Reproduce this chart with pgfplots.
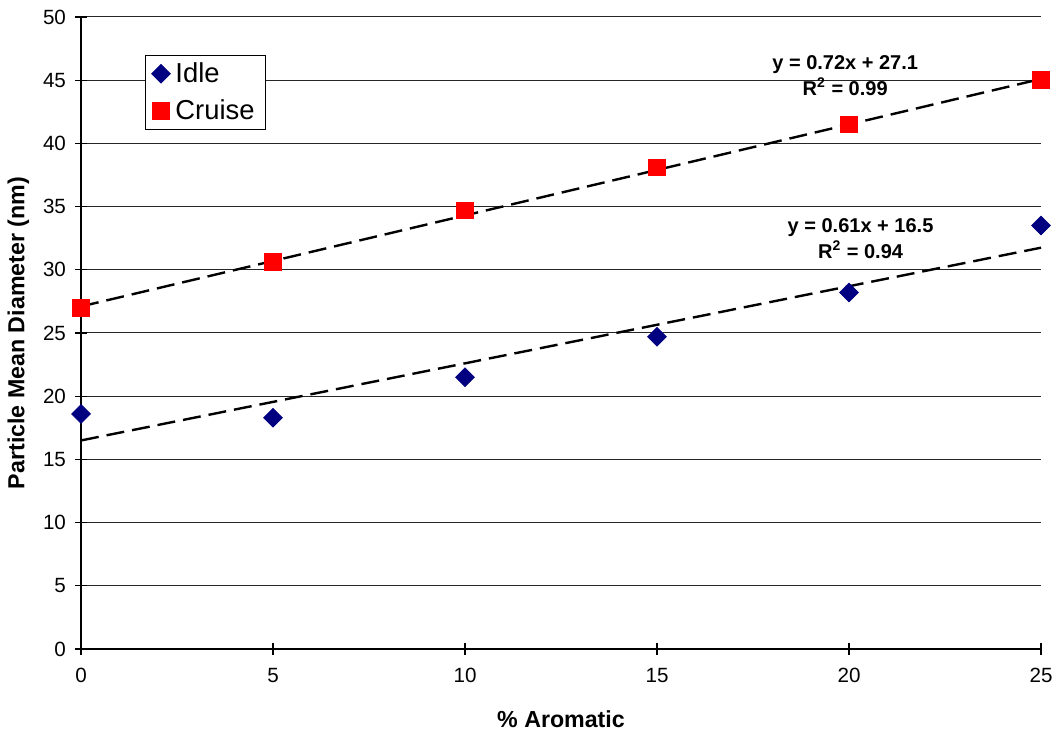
\documentclass[border=0pt]{standalone}
\usepackage{fontspec}
\setmainfont{Liberation Sans}
\usepackage{pgfplots}
\pgfplotsset{compat=1.18}
\definecolor{idlenavy}{RGB}{0,0,128}
\definecolor{cruisered}{RGB}{255,0,0}
\begin{document}
\begin{tikzpicture}[x=1pt,y=1pt]
\begin{axis}[
  scale only axis,
  width=480pt, height=316pt,
  xmin=0, xmax=25, ymin=0, ymax=50,
  xtick={0,5,...,25}, ytick={0,5,...,50},
  axis x line*=bottom, axis y line*=left,
  axis line style={black, line width=0.8pt},
  tick style={black, line width=0.6pt},
  tick align=center,
  major tick length=6pt,
  ymajorgrids, grid style={black!85, line width=0.5pt},
  clip=false,
  /pgf/number format/assume math mode=true,
  tick label style={font=\fontsize{10.3}{12}\selectfont},
  xticklabel style={yshift=-3pt},
  yticklabel style={xshift=-1pt},
  xlabel={\textbf{\% Aromatic}},
  ylabel={\textbf{Particle Mean Diameter (nm)}},
  label style={font=\fontsize{11.6}{13}\selectfont},
  xlabel style={yshift=-7pt},
  ylabel style={yshift=0pt},
  legend style={at={(0.067,0.94)}, anchor=north west, draw=black, fill=white,
    font=\fontsize{13.7}{16}\selectfont, inner xsep=3pt, inner ysep=1.5pt,
    row sep=3pt, legend cell align=left,
    nodes={inner xsep=2.5pt}},
  legend image code/.code={\draw[#1] plot coordinates {(0.16cm,0cm)};},
]
% measured points
\addplot[only marks, mark=square*, mark options={rotate=45}, mark size=3.3pt, color=idlenavy]
  coordinates {(0,18.6) (5,18.3) (10,21.5) (15,24.7) (20,28.2) (25,33.5)};
\addlegendentry{Idle}
\addplot[only marks, mark=square*, mark size=4.2pt, color=cruisered]
  coordinates {(0,27.0) (5,30.6) (10,34.7) (15,38.1) (20,41.5) (25,45.0)};
\addlegendentry{Cruise}
% linear fits
\addplot[black, line width=1.2pt, dash pattern=on 9pt off 4pt, forget plot]
  coordinates {(0,16.5) (25,31.75)};
\addplot[black, line width=1.2pt, dash pattern=on 9pt off 4pt, forget plot]
  coordinates {(0,27.1) (25,45.1)};
\node[font=\bfseries\fontsize{10}{12}\selectfont, align=center]
  at (axis cs:19.9,45.4) {y = 0.72x + 27.1\\[1pt]R$^{\mathbf{2}}$ = 0.99};
\node[font=\bfseries\fontsize{10}{12}\selectfont, align=center]
  at (axis cs:20.3,32.5) {y = 0.61x + 16.5\\[1pt]R$^{\mathbf{2}}$ = 0.94};
\coordinate (bbsw) at (rel axis cs:-0.0844,-0.1282);
\coordinate (bbne) at (rel axis cs:1.0156,1.0269);
\end{axis}
\pgfresetboundingbox
\path[use as bounding box] (bbsw) rectangle (bbne);
\end{tikzpicture}
\end{document}
